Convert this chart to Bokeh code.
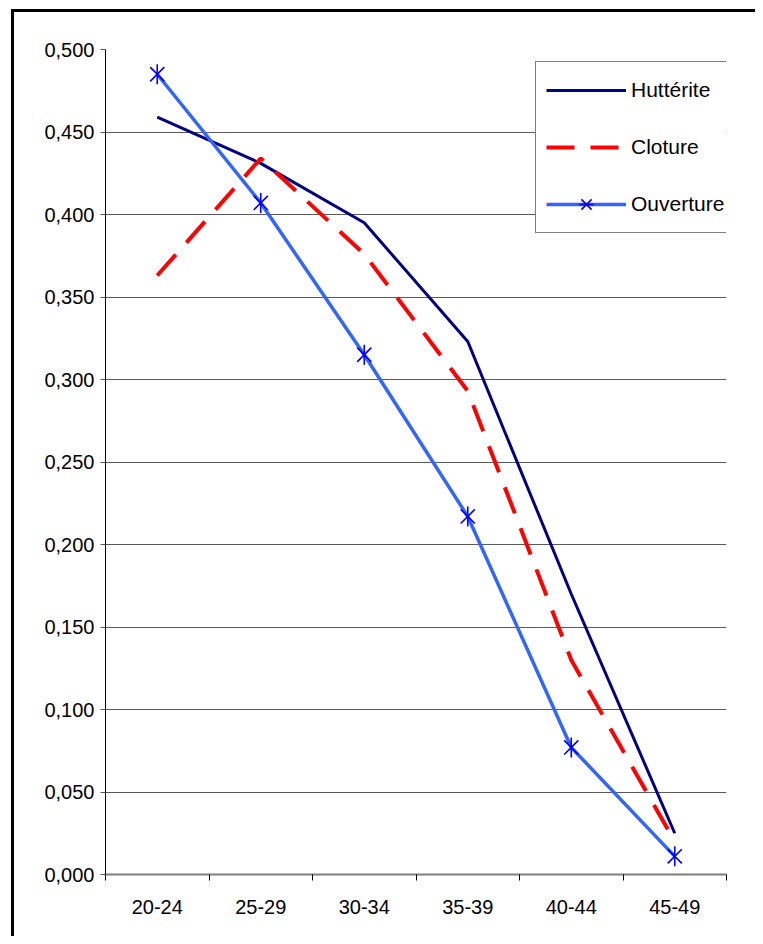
import math
from bokeh.plotting import figure
from bokeh.layouts import column, row
from bokeh.models import (Range1d, FixedTicker, CustomJSTickFormatter, Legend, LegendItem, Div)
from bokeh.embed import file_html
from bokeh.resources import INLINE

# ---- data ----
categories = ["20-24", "25-29", "30-34", "35-39", "40-44", "45-49"]
hutterite = [0.459, 0.431, 0.395, 0.323, 0.170, 0.025]
cloture = [0.363, 0.434, 0.376, 0.293, 0.130, 0.020]
ouverture = [0.485, 0.407, 0.315, 0.217, 0.077, 0.011]
y_ticks = [0.0, 0.05, 0.1, 0.15, 0.2, 0.25, 0.3, 0.35, 0.4, 0.45, 0.5]

xs = [i + 0.5 for i in range(len(categories))]
boundaries = list(range(len(categories) + 1))

FONT = "Liberation Sans"
W, H = 741, 924
EDGE = 3

p = figure(width=W, height=H, output_backend="svg", toolbar_location=None,
           x_range=Range1d(0, len(categories)), y_range=Range1d(y_ticks[0], y_ticks[-1]),
           min_border_left=91, min_border_top=37, min_border_right=29, min_border_bottom=62,
           background_fill_color="white", border_fill_color="white")
p.outline_line_color = None

# grid
p.xgrid.grid_line_color = None
p.ygrid.ticker = FixedTicker(ticks=y_ticks)
p.ygrid.grid_line_color = "#5a5a5a"
p.ygrid.grid_line_width = 1

# y axis
p.yaxis.ticker = FixedTicker(ticks=y_ticks)
p.yaxis.formatter = CustomJSTickFormatter(code="return tick.toFixed(3).replace('.', ',');")
p.yaxis.axis_line_color = "black"
p.yaxis.major_tick_out = 5
p.yaxis.major_tick_in = 0
p.yaxis.minor_tick_out = 0
p.yaxis.minor_tick_in = 0
p.yaxis.major_tick_line_color = "#555555"
p.yaxis.major_label_standoff = 6
p.yaxis.major_label_text_font = FONT
p.yaxis.major_label_text_font_size = "20px"
p.yaxis.major_label_text_color = "black"

# x axis
p.xaxis.ticker = FixedTicker(ticks=xs, minor_ticks=boundaries)
p.xaxis.formatter = CustomJSTickFormatter(args=dict(labels=categories),
                                          code="const i = Math.floor(tick); return labels[i] || '';")
p.xaxis.axis_line_color = "#7f7f7f"
p.xaxis.axis_line_width = 2
p.xaxis.major_tick_out = 0
p.xaxis.major_tick_in = 0
p.xaxis.minor_tick_out = 6
p.xaxis.minor_tick_in = 0
p.xaxis.minor_tick_line_color = "black"
p.xaxis.major_label_standoff = 19
p.xaxis.major_label_text_font = FONT
p.xaxis.major_label_text_font_size = "20px"
p.xaxis.major_label_text_color = "black"

# series
r1 = p.line(xs, hutterite, line_color="#000080", line_width=3)
r2 = p.line(xs, cloture, line_color="#FF0000", line_width=4, line_dash="28 16")
r3 = p.line(xs, ouverture, line_color="#3366FF", line_width=3.5)
r3x = p.scatter(xs, ouverture, marker="x", size=20, line_color="#0000FF", line_width=1.6)
r3d = p.scatter(xs, ouverture, marker="dash", angle=math.pi / 2, size=20,
                line_color="#0000FF", line_width=1.6)

legend = Legend(items=[
    LegendItem(label="Huttérite", renderers=[r1]),
    LegendItem(label="Cloture", renderers=[r2]),
    LegendItem(label="Ouverture", renderers=[r3, r3x, r3d]),
], location=(430, 641))
legend.glyph_width = 80
legend.glyph_height = 36
legend.label_height = 36
legend.label_standoff = 5
legend.spacing = 21
legend.padding = 10
legend.margin = 0
legend.border_line_color = "black"
legend.border_line_width = 1
legend.background_fill_color = "white"
legend.background_fill_alpha = 1
legend.label_text_font = FONT
legend.label_text_font_size = "21px"
legend.label_text_color = "black"
p.add_layout(legend)

# outer chart frame: only its left and top edges fall inside the window
top_edge = Div(text="", width=W + EDGE, height=EDGE, margin=0,
               styles={"background-color": "black"})
left_edge = Div(text="", width=EDGE, height=H, margin=0,
                styles={"background-color": "black"})
layout = column(top_edge, row(left_edge, p, spacing=0, margin=0), spacing=0,
                margin=(9, 0, 0, 11))

open("out.html", "w").write(file_html(layout, INLINE))
